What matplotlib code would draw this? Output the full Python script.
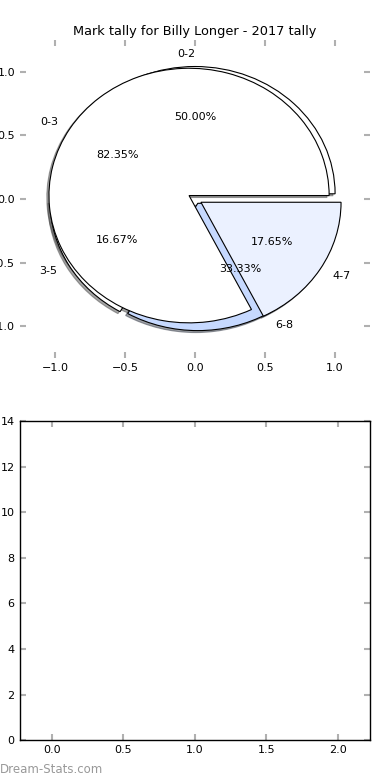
import matplotlib
matplotlib.use('Agg')
import matplotlib.pyplot as plt

# данные - две круговые диаграммы на одних осях
labels_a = ['0-2', '3-5', '6-8']
values_a = [3, 1, 2]
colors_a = ['#ffffff', '#ffffff', '#c6d9ff']

labels_b = ['0-3', '4-7']
values_b = [14, 3]
colors_b = ['#ffffff', '#ebf1ff']

bar_y_ticks = [0, 2, 4, 6, 8, 10, 12, 14]
bar_x_ticks = [0.0, 0.5, 1.0, 1.5, 2.0]

fig = plt.figure(figsize=(3.9, 7.8), dpi=100)

# верхний график - пироги
ax1 = fig.add_axes([0.051, 0.541, 0.898, 0.408])
wp = {'edgecolor': 'black', 'linewidth': 0.8}
shad = {'ox': -0.011, 'oy': -0.011}
ax1.pie(values_a, labels=labels_a, colors=colors_a, autopct='%1.2f%%',
        explode=[0.04] * len(values_a), shadow=shad, wedgeprops=wp,
        textprops={'fontsize': 8})
ax1.pie(values_b, labels=labels_b, colors=colors_b, autopct='%1.2f%%',
        explode=[0.05] * len(values_b), shadow=shad, wedgeprops=wp,
        textprops={'fontsize': 8})
ax1.set_aspect('auto')
ax1.set_xlim(-1.25, 1.25)
ax1.set_ylim(-1.25, 1.25)
ax1.set_xticks([-1.0, -0.5, 0.0, 0.5, 1.0])
ax1.set_yticks([-1.0, -0.5, 0.0, 0.5, 1.0])
ax1.set_yticklabels(['\u22121.0', '\u22120.5', '0.0', '0.5', '1.0'])
ax1.set_title('Mark tally for Billy Longer - 2017 tally', fontsize=9.3, pad=3.5)

# нижний график - пустые оси
ax2 = fig.add_axes([0.050, 0.051, 0.899, 0.409])
ax2.set_xlim(-0.225, 2.225)
ax2.set_ylim(0, 14)
ax2.set_xticks(bar_x_ticks)
ax2.set_yticks(bar_y_ticks)

for ax in (ax1, ax2):
    ax.tick_params(direction='in', length=4, width=1.5, color='#b0b0b0',
                   labelsize=8, top=True, right=True, pad=3.5)
for s in ax2.spines.values():
    s.set_linewidth(1)

fig.text(0.0, 0.013, 'Dream-Stats.com', fontsize=8.5, color='#999999',
         ha='left', va='center')

fig.savefig('out.png', dpi=100)
